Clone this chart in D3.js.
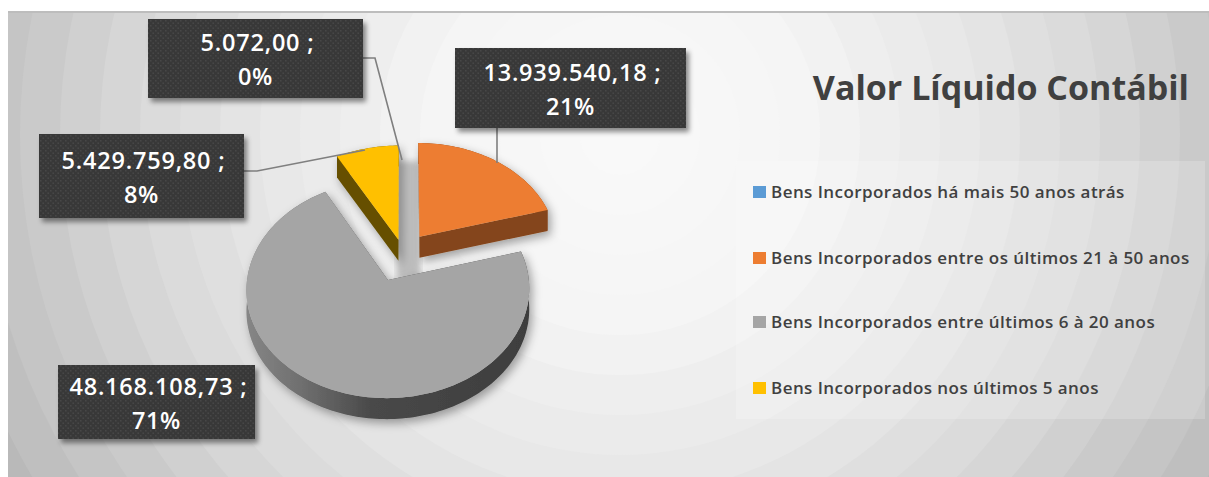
<!DOCTYPE html>
<html>
<head>
<meta charset="utf-8">
<script src="https://cdnjs.cloudflare.com/ajax/libs/d3/7.8.5/d3.min.js"></script>
<style>
  html, body { margin: 0; padding: 0; background: #fff; }
  svg { display: block; }
  text { font-family: "Open Sans", sans-serif; }
</style>
</head>
<body>
<div id="chart"></div>
<script>
// data
const categories = [
  "Bens Incorporados há mais 50 anos atrás",
  "Bens Incorporados entre os últimos 21 à 50 anos",
  "Bens Incorporados entre últimos 6 à 20 anos",
  "Bens Incorporados nos últimos 5 anos"
];
const values = [5072.00, 13939540.18, 48168108.73, 5429759.80];
const colors = ["#5b9bd5", "#ed7d31", "#a5a5a5", "#ffc000"];
const wallColors = ["#37607f", "#84451a", "url(#grayWall)", "#665000"];
const explode = [0.2, 0.2, 0.277, 0.134];
const title = "Valor Líquido Contábil";

// layout
const width = 1209, height = 477;
const plot = { x: 8, y: 11 };
const center = { x: 403, y: 253 };
const rx = 138, ry = 103.8, persp = 12.3, depth = 21;
const labelBoxes = [
  { x: 148, y: 19, w: 215, h: 79 },
  { x: 455, y: 48, w: 231, h: 80 },
  { x: 58, y: 365, w: 197, h: 74 },
  { x: 39, y: 134, w: 205, h: 84 }
];
// slices without a leader have null
const leaders = [
  [[363, 58], [375, 58], [402, 160]],
  [[497, 128], [497, 163]],
  null,
  [[244, 171], [257, 171], [365, 150]]
];
const legendY = [192, 258, 322, 388];

const svg = d3.select("#chart").append("svg")
  .attr("width", width).attr("height", height);
const defs = svg.append("defs");

// gray side of the big slice
const grad = defs.append("linearGradient").attr("id", "grayWall")
  .attr("gradientUnits", "userSpaceOnUse")
  .attr("x1", 247).attr("x2", 529).attr("y1", 0).attr("y2", 0);
[[0, "#868686"], [0.2, "#6e6e6e"], [0.45, "#484848"], [1, "#3e3e3e"]].forEach(s => {
  grad.append("stop").attr("offset", s[0]).attr("stop-color", s[1]);
});

const shadow = defs.append("filter").attr("id", "soft")
  .attr("x", "-20%").attr("y", "-20%").attr("width", "140%").attr("height", "140%");
shadow.append("feDropShadow").attr("dx", 3).attr("dy", 4)
  .attr("stdDeviation", 5).attr("flood-color", "#000").attr("flood-opacity", 0.35);

const boxShadow = defs.append("filter").attr("id", "boxShadow")
  .attr("x", "-10%").attr("y", "-15%").attr("width", "120%").attr("height", "140%");
boxShadow.append("feDropShadow").attr("dx", 3).attr("dy", 4)
  .attr("stdDeviation", 2.5).attr("flood-color", "#000").attr("flood-opacity", 0.45);

defs.append("filter").attr("id", "blur")
  .append("feGaussianBlur").attr("stdDeviation", 3);

const dots = defs.append("pattern").attr("id", "dots")
  .attr("width", 5).attr("height", 5).attr("patternUnits", "userSpaceOnUse");
dots.append("rect").attr("width", 5).attr("height", 5).attr("fill", "#393939");
dots.append("rect").attr("width", 1.5).attr("height", 1.5).attr("fill", "#474747");
dots.append("rect").attr("x", 2.5).attr("y", 2.5).attr("width", 1.5).attr("height", 1.5).attr("fill", "#474747");

// background rings
const bg = svg.append("g");
defs.append("clipPath").attr("id", "plotClip").append("rect")
  .attr("x", plot.x).attr("y", plot.y).attr("width", width - plot.x).attr("height", height - plot.y);
bg.attr("clip-path", "url(#plotClip)");
const shade = d3.scaleLinear().domain([0, 200, 370, 520, 700])
  .range(["#fafafa", "#f5f5f5", "#e7e7e7", "#d6d6d6", "#bcbcbc"]);
bg.selectAll("circle").data(d3.range(19, 0, -1).map(i => i * 40))
  .join("circle")
  .attr("cx", 620).attr("cy", 135).attr("r", d => d)
  .attr("fill", d => shade(d));
bg.append("rect").attr("x", plot.x).attr("y", plot.y).attr("width", width - plot.x).attr("height", 2)
  .attr("fill", "#bdbdbd");

// legend panel
svg.append("rect").attr("x", 736).attr("y", 161).attr("width", 469).attr("height", 258)
  .attr("fill", "#fff").attr("opacity", 0.2);

// pie slices, projected with a bit of perspective
const pie = d3.pie().sort(null).value(d => d);
const arcs = pie(values);

function project(X, Y) {
  const s = persp / (persp + Y);
  return [center.x + rx * X * s, center.y - ry * Y * s];
}

function outline(a, i) {
  const mid = (a.startAngle + a.endAngle) / 2;
  const ox = explode[i] * Math.sin(mid), oy = explode[i] * Math.cos(mid);
  const n = Math.max(2, Math.ceil((a.endAngle - a.startAngle) * 40));
  const pts = [project(ox, oy)];
  d3.range(n + 1).forEach(k => {
    const t = a.startAngle + (a.endAngle - a.startAngle) * k / n;
    pts.push(project(ox + Math.sin(t), oy + Math.cos(t)));
  });
  return pts;
}

const line = d3.line().curve(d3.curveLinearClosed);
const drop = p => [p[0], p[1] + depth];

// soft gap behind the exploded slices
svg.append("rect").attr("x", 397).attr("y", 161).attr("width", 23).attr("height", 118)
  .attr("fill", "#bcbcbc").attr("filter", "url(#blur)");

// the blue slice is too thin to show, it only keeps its place in the pie
const sliceOrder = [2, 1, 3];
const slices = svg.append("g").selectAll("g").data(sliceOrder).join("g")
  .attr("filter", "url(#soft)");
slices.each(function(i) {
  const pts = outline(arcs[i], i);
  const rim = pts.slice(1);
  const walls = [
    rim.concat(rim.map(drop).reverse()),
    [pts[0], pts[1], drop(pts[1]), drop(pts[0])],
    [pts[0], rim[rim.length - 1], drop(rim[rim.length - 1]), drop(pts[0])]
  ];
  const g = d3.select(this);
  g.selectAll("path.wall").data(walls).join("path")
    .attr("class", "wall").attr("d", line)
    .attr("fill", wallColors[i]);
  g.append("path").attr("d", line(pts)).attr("fill", colors[i]);
});

// leader lines
svg.append("g").selectAll("path").data(leaders.filter(d => d)).join("path")
  .attr("d", d3.line())
  .attr("fill", "none").attr("stroke", "#7f7f7f").attr("stroke-width", 1.6);

// data labels
const fmtLocale = d3.formatLocale({ decimal: ",", thousands: ".", grouping: [3], currency: ["R$", ""] });
const fmtValue = fmtLocale.format(",.2f");
const fmtPct = d3.format(".0%");
const total = d3.sum(values);

const labels = svg.append("g").selectAll("g").data(values).join("g");
labels.append("rect")
  .attr("x", (d, i) => labelBoxes[i].x).attr("y", (d, i) => labelBoxes[i].y)
  .attr("width", (d, i) => labelBoxes[i].w).attr("height", (d, i) => labelBoxes[i].h)
  .attr("fill", "url(#dots)").attr("filter", "url(#boxShadow)");
labels.append("text")
  .attr("x", (d, i) => labelBoxes[i].x + labelBoxes[i].w / 2 + 2)
  .attr("y", (d, i) => labelBoxes[i].y + labelBoxes[i].h / 2 - 7.5)
  .attr("text-anchor", "middle").attr("fill", "#fff")
  .attr("font-size", 23.5).attr("font-weight", 600).attr("letter-spacing", 0.8)
  .text(d => fmtValue(d) + " ;");
labels.append("text")
  .attr("x", (d, i) => labelBoxes[i].x + labelBoxes[i].w / 2)
  .attr("y", (d, i) => labelBoxes[i].y + labelBoxes[i].h / 2 + 26.5)
  .attr("text-anchor", "middle").attr("fill", "#fff")
  .attr("font-size", 23.5).attr("font-weight", 600).attr("letter-spacing", 0.6)
  .text(d => fmtPct(d / total));

// title
svg.append("text").attr("x", 1189).attr("y", 100).attr("text-anchor", "end")
  .attr("font-size", 34).attr("font-weight", 700).attr("fill", "#404040")
  .text(title);

// legend
const legend = svg.append("g").selectAll("g").data(categories).join("g")
  .attr("transform", (d, i) => `translate(753,${legendY[i]})`);
legend.append("rect").attr("y", -6).attr("width", 13).attr("height", 12)
  .attr("fill", (d, i) => colors[i]);
legend.append("text").attr("x", 18).attr("y", 6)
  .attr("font-size", 17).attr("font-weight", 600).attr("letter-spacing", 0.44).attr("fill", "#404040")
  .text(d => d);
</script>
</body>
</html>
